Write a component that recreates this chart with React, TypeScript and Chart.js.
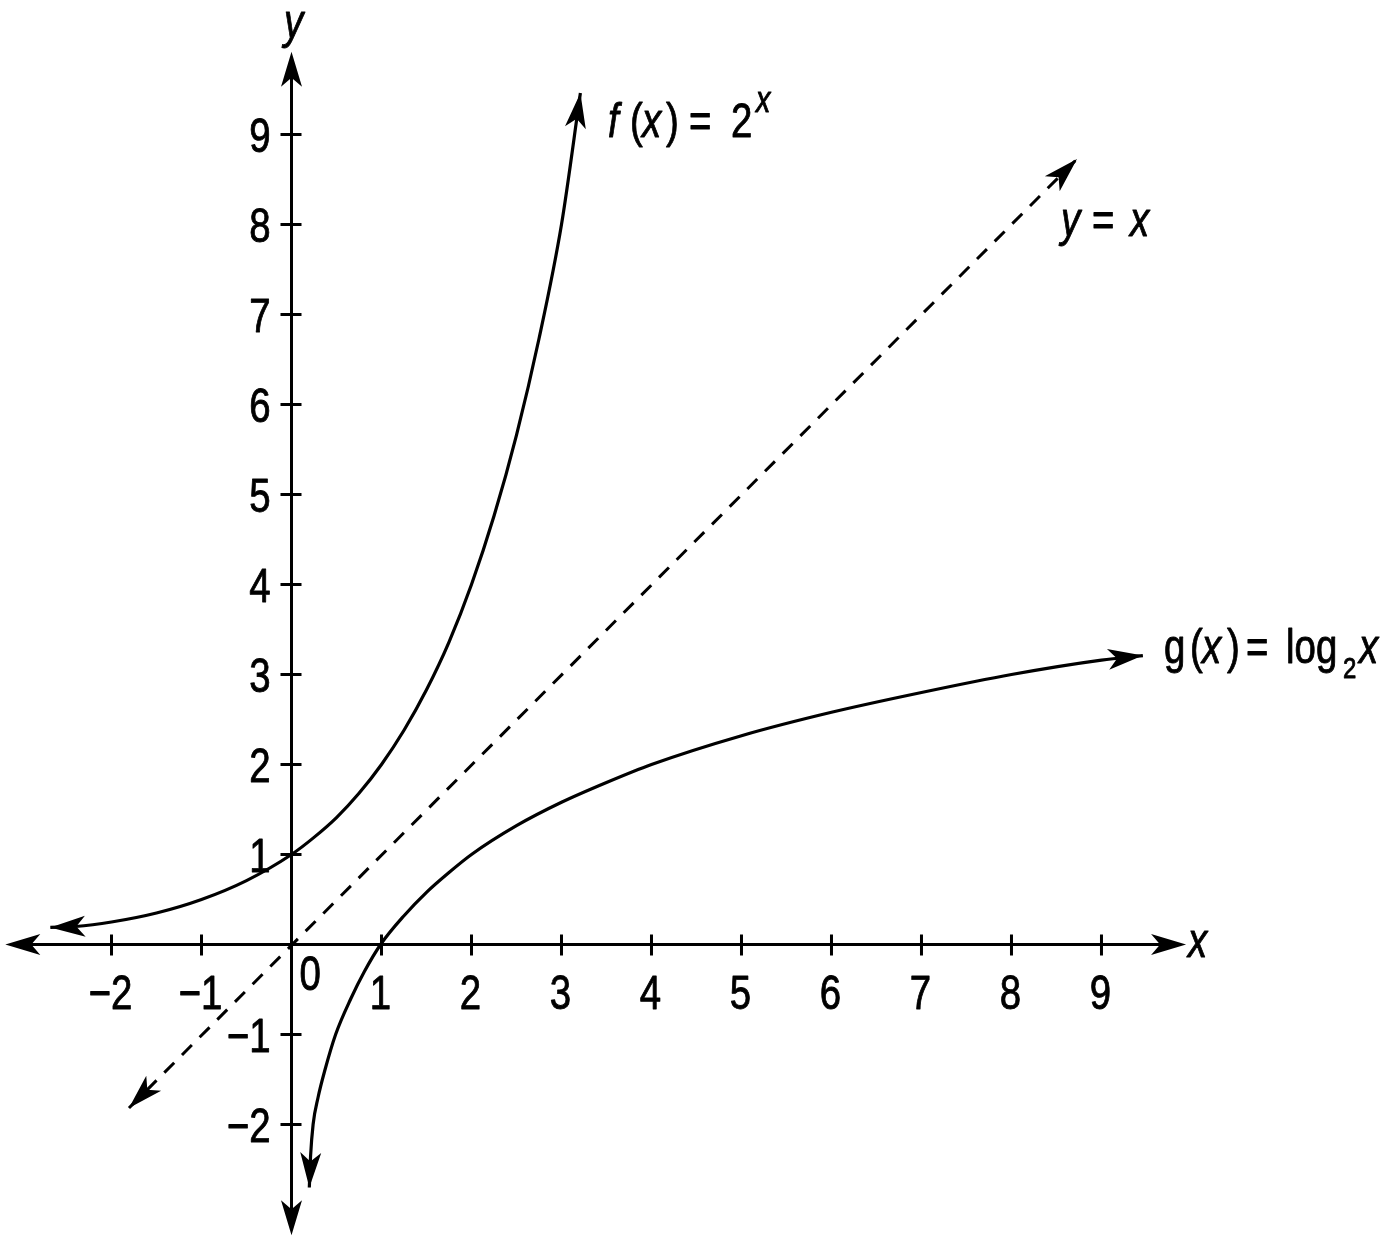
import React, { useEffect, useRef } from "react";
import { Chart, registerables } from "chart.js";

Chart.register(...registerables);

// ---- data ----
const expX = [-2.68, -2.4, -2.0, -1.5, -1.0, -0.5, 0, 0.25, 0.5, 0.75, 1.0, 1.25, 1.5, 1.75, 2.0, 2.25, 2.5, 2.75, 3.0, 3.21];
const expY = [0.19, 0.2, 0.25, 0.35, 0.5, 0.71, 1.0, 1.19, 1.41, 1.68, 2.0, 2.38, 2.83, 3.36, 4.0, 4.76, 5.66, 6.73, 8.0, 9.46];

const logX = [0.198, 0.212, 0.24, 0.295, 0.37, 0.49, 0.66, 0.81, 0.99, 1.25, 1.5, 1.75, 2.0, 2.5, 3.0, 3.5, 4.0, 5.0, 6.0, 7.0, 8.0, 9.0, 9.46];
const logY = [-2.7, -2.35, -2.0, -1.7, -1.4, -1.0, -0.6, -0.3, 0, 0.32, 0.58, 0.8, 1.0, 1.32, 1.58, 1.8, 2.0, 2.32, 2.58, 2.8, 3.0, 3.16, 3.21];

const idX = [-1.806, 8.728];
const idY = [-1.817, 8.728];

const xTicks = [-2, -1, 1, 2, 3, 4, 5, 6, 7, 8, 9];
const yTicks = [-2, -1, 1, 2, 3, 4, 5, 6, 7, 8, 9];

const xAxisEnds = [-3.18, 9.94];
const yAxisEnds = [-3.23, 9.92];

// ---- view range ----
const X_MIN = -3.239;
const X_MAX = 12.317;
const Y_MIN = -3.35;
const Y_MAX = 10.494;

const FONT = '"Liberation Sans", Arial, sans-serif';
const SX = 0.8; // horizontal condensing of the type

const toPts = (xs: number[], ys: number[]) => xs.map((x, i) => ({ x, y: ys[i] }));
const tickLabel = (v: number) => (v < 0 ? "\u2212" + Math.abs(v) : String(v));

function arrow(ctx: CanvasRenderingContext2D, tx: number, ty: number, dx: number, dy: number, len = 35, half = 10.5, notch = 9) {
  const m = Math.hypot(dx, dy) || 1;
  const ux = dx / m, uy = dy / m;
  const px = -uy, py = ux;
  ctx.beginPath();
  ctx.moveTo(tx, ty);
  ctx.lineTo(tx - ux * len + px * half, ty - uy * len + py * half);
  ctx.lineTo(tx - ux * (len - notch), ty - uy * (len - notch));
  ctx.lineTo(tx - ux * len - px * half, ty - uy * len - py * half);
  ctx.closePath();
  ctx.fillStyle = "#000";
  ctx.fill();
}

function text(ctx: CanvasRenderingContext2D, t: string, x: number, y: number, size = 48, italic = false, align: CanvasTextAlign = "left") {
  ctx.save();
  ctx.fillStyle = "#000";
  ctx.strokeStyle = "#000";
  ctx.lineWidth = 0.9;
  ctx.lineJoin = "round";
  ctx.font = `${italic ? "italic " : ""}${size}px ${FONT}`;
  ctx.textAlign = align;
  ctx.textBaseline = "alphabetic";
  ctx.translate(x, y);
  ctx.scale(SX, 1);
  ctx.fillText(t, 0, 0);
  ctx.strokeText(t, 0, 0);
  ctx.restore();
}

type Run = { t: string; x: number; y: number; size?: number; italic?: boolean };
function runs(ctx: CanvasRenderingContext2D, rs: Run[]) {
  for (const r of rs) text(ctx, r.t, r.x, r.y, r.size || 48, !!r.italic);
}

const axesPlugin = {
  id: "mathAxes",
  beforeDatasetsDraw(chart: any) {
    const ctx: CanvasRenderingContext2D = chart.ctx;
    const xs = chart.scales.x, ys = chart.scales.y;
    const ox = xs.getPixelForValue(0), oy = ys.getPixelForValue(0);
    ctx.save();
    ctx.strokeStyle = "#000";
    ctx.lineWidth = 3;
    const xl = xs.getPixelForValue(xAxisEnds[0]), xr = xs.getPixelForValue(xAxisEnds[1]);
    const yb = ys.getPixelForValue(yAxisEnds[0]), yt = ys.getPixelForValue(yAxisEnds[1]);
    ctx.beginPath();
    ctx.moveTo(xl + 20, oy);
    ctx.lineTo(xr - 20, oy);
    ctx.moveTo(ox, yb - 20);
    ctx.lineTo(ox, yt + 20);
    for (const v of xTicks) {
      const p = xs.getPixelForValue(v);
      ctx.moveTo(p, oy - 10);
      ctx.lineTo(p, oy + 11);
    }
    for (const v of yTicks) {
      const p = ys.getPixelForValue(v);
      ctx.moveTo(ox - 11, p);
      ctx.lineTo(ox + 10, p);
    }
    ctx.stroke();
    arrow(ctx, xl, oy, -1, 0);
    arrow(ctx, xr, oy, 1, 0);
    arrow(ctx, ox, yt, 0, -1);
    arrow(ctx, ox, yb, 0, 1);

    for (const v of xTicks) {
      text(ctx, tickLabel(v), xs.getPixelForValue(v) - 1, oy + 65, 48, false, "center");
    }
    for (const v of yTicks) {
      text(ctx, tickLabel(v), ox - 21, ys.getPixelForValue(v) + 18, 48, false, "right");
    }
    text(ctx, "0", ox + 8, oy + 46);
    ctx.restore();
  },
  afterDatasetsDraw(chart: any) {
    const ctx: CanvasRenderingContext2D = chart.ctx;
    const xs = chart.scales.x, ys = chart.scales.y;
    const P = (x: number, y: number) => [xs.getPixelForValue(x), ys.getPixelForValue(y)];
    ctx.save();
    const nE = expX.length, nL = logX.length;
    const ends: [number[], number[]][] = [
      [P(expX[0], expY[0]), P(expX[1], expY[1])],
      [P(expX[nE - 1], expY[nE - 1]), P(expX[nE - 2], expY[nE - 2])],
      [P(logX[0], logY[0]), P(logX[1], logY[1])],
      [P(logX[nL - 1], logY[nL - 1]), P(logX[nL - 2], logY[nL - 2])],
      [P(idX[0], idY[0]), P(idX[1], idY[1])],
      [P(idX[1], idY[1]), P(idX[0], idY[0])],
    ];
    for (const [tip, prev] of ends) {
      arrow(ctx, tip[0], tip[1], tip[0] - prev[0], tip[1] - prev[1]);
    }
    runs(ctx, [
      // axis names
      { t: "x", x: 1188, y: 957, italic: true },
      { t: "y", x: 284, y: 38, italic: true },
      // f(x) = 2^x
      { t: "f", x: 608, y: 137, italic: true },
      { t: "(", x: 630, y: 137 },
      { t: "x", x: 642, y: 137, italic: true },
      { t: ")", x: 666, y: 137 },
      { t: "=", x: 689, y: 137 },
      { t: "2", x: 731, y: 137 },
      { t: "x", x: 756, y: 112, size: 36, italic: true },
      // y = x
      { t: "y", x: 1061, y: 236, italic: true },
      { t: "=", x: 1092, y: 236 },
      { t: "x", x: 1130, y: 236, italic: true },
      // g(x) = log2 x
      { t: "g", x: 1164, y: 663 },
      { t: "(", x: 1190, y: 663 },
      { t: "x", x: 1202, y: 663, italic: true },
      { t: ")", x: 1227, y: 663 },
      { t: "=", x: 1246, y: 663 },
      { t: "log", x: 1286, y: 663 },
      { t: "2", x: 1343, y: 678, size: 30 },
      { t: "x", x: 1359, y: 663, italic: true },
    ]);
    ctx.restore();
  },
};

export default function App() {
  const ref = useRef<HTMLCanvasElement | null>(null);
  useEffect(() => {
    document.body.style.margin = "0";
    const canvas = ref.current;
    if (!canvas) return;
    const chart = new Chart(canvas, {
      type: "scatter",
      data: {
        datasets: [
          {
            label: "f(x) = 2^x",
            data: toPts(expX, expY),
            showLine: true,
            borderColor: "#000",
            borderWidth: 3.2,
            pointRadius: 0,
            cubicInterpolationMode: "monotone",
          },
          {
            label: "g(x) = log2 x",
            data: toPts(logX, logY),
            showLine: true,
            borderColor: "#000",
            borderWidth: 3.2,
            pointRadius: 0,
            cubicInterpolationMode: "monotone",
          },
          {
            label: "y = x",
            data: toPts(idX, idY),
            showLine: true,
            borderColor: "#000",
            borderWidth: 3,
            borderDash: [14, 11],
            pointRadius: 0,
          },
        ],
      } as any,
      options: {
        responsive: false,
        animation: false,
        devicePixelRatio: 1,
        events: [],
        layout: { padding: 0 },
        plugins: { legend: { display: false }, tooltip: { enabled: false } },
        scales: {
          x: { type: "linear", min: X_MIN, max: X_MAX, display: false },
          y: { type: "linear", min: Y_MIN, max: Y_MAX, display: false },
        },
      } as any,
      plugins: [axesPlugin],
    });
    return () => chart.destroy();
  }, []);
  return <canvas ref={ref} width={1400} height={1246} style={{ display: "block" }} />;
}
